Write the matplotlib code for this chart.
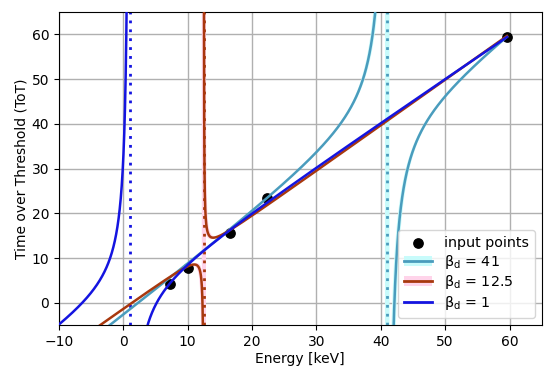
import numpy as np
import matplotlib
matplotlib.use("Agg")
import matplotlib.pyplot as plt
from matplotlib.patches import Patch
from matplotlib.lines import Line2D

# input calibration points (Energy keV, ToT)
point_E = [7.3, 10.0, 16.6, 22.3, 59.6]
point_ToT = [4.2, 7.8, 15.6, 23.4, 59.5]

# surrogate function parameters: ToT = a*E + b - c/(E - t), t = beta_d
beta_d = [41, 12.5, 1]
param_a = [1.1046, 1.02, 0.97]
param_b = [-3.79, -1.2, 2.1]
param_c = [47.6, -2.2, 30.0]
labels = [r"β$_\mathrm{d}$ = 41", r"β$_\mathrm{d}$ = 12.5", r"β$_\mathrm{d}$ = 1"]
line_colors = ["#4a9cbd", "#a8380e", "#1414e0"]
band_colors = ["#c8fbfb", "#ffd4ea", "#dcdcff"]
band_halfwidth = [0.35, 0.3, 0.0]
E_range = [-10, 59.6]

def tot(E, a, b, c, t):
    return a * E + b - c / (E - t)

fig = plt.figure(figsize=(5.5, 3.75), dpi=100)
ax = fig.add_axes([0.107, 0.133, 0.878, 0.835])
xmin, xmax, ymin, ymax = -10, 65, -5, 65

ax.grid(True, color="#b0b0b0", linewidth=1.0, zorder=0)
ax.set_axisbelow(True)

handles = []
for i in range(3):
    a, b, c, t = param_a[i], param_b[i], param_c[i], beta_d[i]
    hw = band_halfwidth[i]
    if hw > 0:
        ax.axvspan(t - hw, t + hw, color=band_colors[i], zorder=1, lw=0)
    ax.axvline(t, color=line_colors[i], linestyle=(0, (1, 2.2)), linewidth=2, zorder=2)
    for lo, hi in [(E_range[0], t - 1e-4), (t + 1e-4, E_range[1])]:
        E = np.concatenate([np.linspace(lo, hi, 4000),
                            t + np.sign(lo - t + 1e-9) * np.geomspace(1e-4, 3, 2000)])
        E = np.sort(E[(E >= lo) & (E <= hi)])
        y = tot(E, a, b, c, t)
        if hw > 0:
            y1 = tot(E, a, b, c, t - hw)
            y2 = tot(E, a, b, c, t + hw)
            ax.fill_between(E, np.clip(y1, -100, 200), np.clip(y2, -100, 200),
                            color=band_colors[i], lw=0, zorder=1)
        yc = np.where((y > 200) | (y < -100), np.nan, y)
        ax.plot(E, yc, color=line_colors[i], linewidth=1.8, zorder=3 + i)
    ln = Line2D([], [], color=line_colors[i], linewidth=2)
    if hw > 0:
        handles.append((Patch(facecolor=band_colors[i], edgecolor="none"), ln))
    else:
        handles.append(ln)

sc = ax.scatter(point_E, point_ToT, s=45, color="black", zorder=2.5)

ax.set_xlim(xmin, xmax)
ax.set_ylim(ymin, ymax)
ax.set_xticks([-10, 0, 10, 20, 30, 40, 50, 60])
ax.set_yticks([0, 10, 20, 30, 40, 50, 60])
ax.tick_params(labelsize=10)
ax.set_xlabel("Energy [keV]", fontsize=10, labelpad=2)
ax.set_ylabel("Time over Threshold (ToT)", fontsize=10, labelpad=2)
ax.legend([sc] + handles, ["input points"] + labels, loc="lower right",
          fontsize=10.3, framealpha=0.8, borderpad=0.4, handlelength=2.0,
          labelspacing=0.2)

fig.savefig("out.png", dpi=100)
